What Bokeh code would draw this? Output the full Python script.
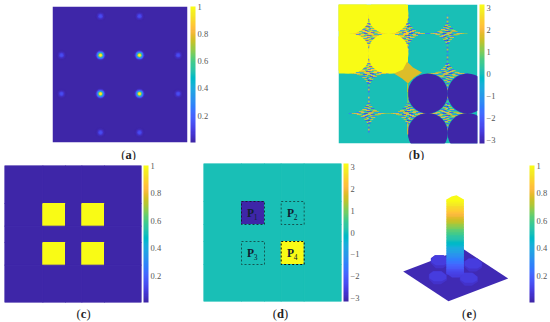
from bokeh.plotting import figure
from bokeh.layouts import column, row
from bokeh.models import ColumnDataSource, ColorBar, FixedTicker, LinearColorMapper, Range1d
from bokeh.core.properties import value
from bokeh.transform import transform
from bokeh.embed import file_html
from bokeh.resources import INLINE

PARULA_RGB = [
 (0.2422,0.1504,0.6603),(0.2504,0.1650,0.7076),(0.2578,0.1818,0.7511),(0.2647,0.1978,0.7952),
 (0.2706,0.2147,0.8364),(0.2751,0.2342,0.8710),(0.2783,0.2559,0.8991),(0.2803,0.2782,0.9221),
 (0.2813,0.3006,0.9414),(0.2810,0.3228,0.9579),(0.2795,0.3447,0.9717),(0.2760,0.3667,0.9829),
 (0.2699,0.3892,0.9906),(0.2602,0.4123,0.9952),(0.2440,0.4358,0.9988),(0.2206,0.4603,0.9973),
 (0.1963,0.4847,0.9892),(0.1834,0.5074,0.9798),(0.1786,0.5289,0.9682),(0.1764,0.5499,0.9520),
 (0.1687,0.5703,0.9359),(0.1540,0.5902,0.9218),(0.1460,0.6091,0.9079),(0.1380,0.6276,0.8973),
 (0.1248,0.6459,0.8883),(0.1113,0.6635,0.8763),(0.0952,0.6798,0.8598),(0.0689,0.6948,0.8394),
 (0.0297,0.7082,0.8163),(0.0036,0.7203,0.7917),(0.0067,0.7312,0.7660),(0.0433,0.7411,0.7394),
 (0.0964,0.7500,0.7120),(0.1408,0.7584,0.6842),(0.1717,0.7670,0.6554),(0.1938,0.7758,0.6251),
 (0.2161,0.7843,0.5923),(0.2470,0.7918,0.5567),(0.2906,0.7973,0.5188),(0.3406,0.8008,0.4789),
 (0.3909,0.8029,0.4354),(0.4456,0.8024,0.3909),(0.5044,0.7993,0.3480),(0.5616,0.7942,0.3045),
 (0.6174,0.7876,0.2612),(0.6720,0.7793,0.2227),(0.7242,0.7698,0.1910),(0.7738,0.7598,0.1646),
 (0.8203,0.7498,0.1535),(0.8634,0.7406,0.1596),(0.9035,0.7330,0.1774),(0.9393,0.7288,0.2100),
 (0.9728,0.7298,0.2394),(0.9956,0.7434,0.2371),(0.9970,0.7659,0.2199),(0.9952,0.7893,0.2028),
 (0.9892,0.8136,0.1885),(0.9786,0.8386,0.1766),(0.9676,0.8639,0.1643),(0.9610,0.8890,0.1537),
 (0.9597,0.9135,0.1423),(0.9628,0.9373,0.1265),(0.9691,0.9606,0.1064),(0.9769,0.9839,0.0805)]
PARULA = ["#%02x%02x%02x" % tuple(int(round(c * 255)) for c in rgb) for rgb in PARULA_RGB]

UNIT_TICKS = [0.2, 0.4, 0.6, 0.8, 1]
PHASE_TICKS = [-3, -2, -1, 0, 1, 2, 3]
PHASE_LABELS = {-3: "\u22123", -2: "\u22122", -1: "\u22121", 0: "0", 1: "1", 2: "2", 3: "3"}

# (a) diffraction spots
spot_x = [48, 87, 48, 87, 9, 125.7, 9, 125.7, 48, 87, 48, 87]
spot_y = [48.7, 48.7, 87.3, 87.3, 48.7, 48.7, 87.3, 87.3, 9.7, 9.7, 126, 126]
spot_peak = [1, 1, 1, 1, .14, .14, .14, .14, .14, .14, .14, .14]
ring_radius = [5.5, 4.7, 3.9, 3.1, 2.4, 1.7, 1.1]
ring_level = [.03, .08, .18, .36, .6, .82, 1]

# (b) phase map
yellow_circle_x = [10.5, 50, 10.5, 50]
yellow_circle_y = [9.5, 9.5, 49, 49]
navy_circle_x = [89.3, 129, 89.3, 129]
navy_circle_y = [89, 89, 128.5, 128.5]
circle_radius = 20
star_x = [30.3, 69.5, 109, 30.3, 109, 30.3, 69.5, 109]
star_y = [29, 29, 29, 69, 69, 109, 109, 109]
star_flip_x = [1, -1, 1, -1, -1, 1, -1, 1]
star_flip_y = [1, 1, -1, -1, 1, -1, -1, 1]
# y0, y1, x0, x1, phase
star_segments = [
 (-19,-17,-.8,.8,-1.8),(-17,-15,-.8,.8,1.8),(-15,-13,-.8,.8,-2),(-13,-11,-.9,.9,.8),
 (11,13,-.9,.9,1.8),(13,15,-.8,.8,-1.5),(15,17,-.8,.8,2.2),(17,19,-.8,.8,-.9),
 (-.4,.4,-20,-17,-1.5),(-.4,.4,-17,-15,1.8),(-.4,.4,15,17,1.6),(-.4,.4,17,20,.9),
 (-10.5,-9.5,-1.6,1.6,-2.2),
 (-9.5,-8.5,-2,-.3,2.0),(-9.5,-8.5,-.3,2,-1.5),
 (-8.5,-7.5,-2.6,0,.8),(-8.5,-7.5,0,2.6,2.2),
 (-7.5,-6.5,-3.4,-.5,-2.4),(-7.5,-6.5,-.5,1,-3),(-7.5,-6.5,1,3.4,.5),
 (-6.5,-5.5,-4.4,-1,1.8),(-6.5,-5.5,-1,1.5,-.8),(-6.5,-5.5,1.5,4.4,1.8),
 (-5.5,-4.5,-5.5,-2,.6),(-5.5,-4.5,-2,.5,2.2),(-5.5,-4.5,.5,2.5,-2.2),(-5.5,-4.5,2.5,5.5,.4),
 (-4.5,-3.5,-6.5,-3,-1.8),(-4.5,-3.5,-3,-.5,1.6),(-4.5,-3.5,-.5,2,-.2),(-4.5,-3.5,2,6.5,2.0),
 (-3.5,-2.5,-8,-4,1.9),(-3.5,-2.5,-4,-1,-2.4),(-3.5,-2.5,-1,3,.9),(-3.5,-2.5,3,8,-1.2),
 (-2.5,-1.5,-10,-6,.5),(-2.5,-1.5,-6,-2,2.3),(-2.5,-1.5,-2,1,-1),(-2.5,-1.5,1,4,1.9),(-2.5,-1.5,4,10,.7),
 (-1.5,-.5,-12,-7,2.0),(-1.5,-.5,-7,-3,-1.4),(-1.5,-.5,-3,2,2.2),(-1.5,-.5,2,6,-2.3),(-1.5,-.5,6,12,1.7),
 (-.5,.5,-15,-10,2.1),(-.5,.5,-10,-5,.6),(-.5,.5,-5,-1,-2.6),(-.5,.5,-1,4,2.0),(-.5,.5,4,9,.3),(-.5,.5,9,15,2.2),
 (.5,1.5,-13,-8,-1.6),(.5,1.5,-8,-4,2.2),(.5,1.5,-4,0,.8),(.5,1.5,0,5,1.9),(.5,1.5,5,13,-1),
 (1.5,2.5,-10,-5,1.9),(1.5,2.5,-5,-2,-.6),(1.5,2.5,-2,3,-2.5),(1.5,2.5,3,10,1.5),
 (2.5,3.5,-8,-3,.9),(2.5,3.5,-3,1,2.1),(2.5,3.5,1,4,.4),(2.5,3.5,4,8,2.0),
 (3.5,4.5,-6.5,-2,2.2),(3.5,4.5,-2,1,-1.9),(3.5,4.5,1,6.5,.7),
 (4.5,5.5,-5.5,-1,-.9),(4.5,5.5,-1,2,2.0),(4.5,5.5,2,5.5,-2.2),
 (5.5,6.5,-4.4,0,1.6),(5.5,6.5,0,4.4,.3),
 (6.5,7.5,-3.4,0,-2.3),(6.5,7.5,0,3.4,1.8),
 (7.5,8.5,-2.6,.5,1.9),(7.5,8.5,.5,2.6,-1.2),
 (8.5,9.5,-2,2,.9),
 (9.5,10.5,-1.6,1.6,-2),
]
blob_x = [55.5, 64.5, 68.5, 74.5, 83.5, 75.5, 69.5, 63.5]
blob_y = [69, 65, 57, 63, 68, 73, 79, 74]
blob_phase = 1.75
edge_x0 = [68.5, 68.5, 68.7]
edge_x1 = [69.7, 69.7, 69.7]
edge_y0 = [79, 88, 118]
edge_y1 = [88, 99, 130]
edge_phase = [1.4, 0.8, 1.8]

# (c) / (d) grids
c_edges_x = [0, 38.3, 61, 77.3, 100, 137]
c_edges_y = [0, 38, 60.7, 77, 99.7, 137]
c_cells = [[0, 0, 0, 0, 0],
           [0, 1, 0, 1, 0],
           [0, 0, 0, 0, 0],
           [0, 1, 0, 1, 0],
           [0, 0, 0, 0, 0]]
d_edges_x = [0, 38, 61, 77.7, 100.7, 138]
d_edges_y = [0, 38, 61, 78, 101, 138]
d_cells = [[0, 0, 0, 0, 0],
           [0, -3.14, 0, 0, 0],
           [0, 0, 0, 0, 0],
           [0, 0, 0, 3.14, 0],
           [0, 0, 0, 0, 0]]
patch_x0 = [38, 77.7, 38, 77.7]
patch_x1 = [61, 100.7, 61, 100.7]
patch_y0 = [38, 38, 78, 78]
patch_y1 = [61, 61, 101, 101]
patch_alpha = [.75, .6, .6, 1]
patch_name_x = [47, 87, 47, 87]
patch_name_y = [49.3, 49.3, 89.3, 89.3]
patch_sub = ["1", "2", "3", "4"]

# (e) surface
plate_x = [402.7, 462.4, 507.7, 448]
plate_y = [271, 248.3, 278, 300.7]
plate_level = 0.02
bump_x = [439.3, 472.7, 437.3, 468.3]
bump_y = [260.7, 264, 276.7, 278.3]
bump_side_dx = [-9, -5, 4, 9, 9, 3, -4, -9]
bump_side_dy = [-3, -6, -6, -2, 3, 7, 7, 2]
bump_top_dx = [-8.5, -4.5, 3.5, 8.5, 8.5, 4, -4, -8.5]
bump_top_dy = [-3, -6, -6, -2, 1.5, 4, 4, 1]
bump_side_level = 0.05
bump_top_level = 0.08
column_left, column_right = 446, 463.3
column_top_x = [446, 451, 456, 463.3, 463.3, 446]
column_top_y = [199, 196, 194.7, 199, 201, 201]
column_foot_x = [446, 451.5, 459, 463.3, 463.3, 446]
column_foot_y = [273, 277, 277, 273, 268, 268]
column_levels = [1, .98, .96, .94, .92, .9, .88, .86, .84, .82, .8, .78, .76, .74, .72, .7,
                 .68, .66, .64, .62, .6, .58, .56, .54, .52, .5, .48, .46, .44, .42, .4, .38,
                 .36, .34, .32, .3, .28, .26, .24, .22, .2, .18, .16, .14, .12, .1]
column_y_at_one, column_y_per_level = 199, 81
foot_level = 0.09

# caption strips, in page pixels
caption_x = {"a": 128, "b": 416, "c": 83, "d": 280, "e": 468.7}
caption_half = {"a": 3.2, "b": 3.6, "c": 2.9, "d": 3.6, "e": 3.0}
top_caption_y = 154
bottom_caption_y = 313.7
SERIF = "Liberation Serif"


def panel(x_range, y_range, left, top, w, h, right, bottom):
    return figure(x_range=Range1d(*x_range), y_range=Range1d(*y_range), x_axis_type=None, y_axis_type=None,
                  frame_width=w, frame_height=h, min_border_left=left, min_border_top=top,
                  min_border_right=right, min_border_bottom=bottom, toolbar_location=None,
                  output_backend="svg", outline_line_color=None, background_fill_color=None, frame_align=False)


def add_bar(p, mapper, ticks, h, gap, overrides=None):
    cb = ColorBar(color_mapper=mapper, ticker=FixedTicker(ticks=ticks), width=5, height=h, padding=0, margin=0,
                  location=(gap, 0), major_tick_line_color=None, minor_tick_line_color=None, bar_line_color=None,
                  border_line_color=None, background_fill_color=None, label_standoff=2,
                  major_label_text_font=SERIF, major_label_text_font_size="8.5px",
                  major_label_text_color="#555555", major_label_overrides=overrides or {})
    p.add_layout(cb, "right")


def strip(letters, y, y_top, y_bottom):
    p = panel((0, 550), (y_bottom, y_top), 0, 0, 550, y_bottom - y_top, 0, 0)
    common = dict(text_baseline="middle", text_font=value(SERIF), text_font_size="12.5px", text_color="#222222")
    xs = [caption_x[k] for k in letters]
    hw = [caption_half[k] for k in letters]
    ys = [y] * len(letters)
    p.text(x=[a - b for a, b in zip(xs, hw)], y=ys, text=["("] * len(letters), text_align="right", **common)
    p.text(x=xs, y=ys, text=list(letters), text_align="center", text_font_style="bold", **common)
    p.text(x=[a + b for a, b in zip(xs, hw)], y=ys, text=[")"] * len(letters), text_align="left", **common)
    return p


def grid_source(ex, ey, cells):
    d = dict(l=[], r=[], t=[], b=[], v=[])
    for i, rw in enumerate(cells):
        for j, val in enumerate(rw):
            d["l"].append(ex[j]); d["r"].append(ex[j + 1]); d["t"].append(ey[i]); d["b"].append(ey[i + 1]); d["v"].append(val)
    return ColumnDataSource(d)


unit = LinearColorMapper(palette=PARULA, low=0.004, high=1)
phase = LinearColorMapper(palette=PARULA, low=-3.14, high=3.14)
cu, cp = transform("v", unit), transform("v", phase)

# (a)
pa = panel((0, 135), (136, 0), 52, 6, 135, 136, 103, 3)
pa.quad(left=[0], right=[135], top=[0], bottom=[136], fill_color=PARULA[0], line_color=None)
sa = dict(x=[], y=[], r=[], v=[])
for sx, sy, peak in zip(spot_x, spot_y, spot_peak):
    for rad, lev in zip(ring_radius, ring_level):
        sa["x"].append(sx); sa["y"].append(sy); sa["r"].append(rad); sa["v"].append(lev * peak)
pa.circle(x="x", y="y", radius="r", source=ColumnDataSource(sa), fill_color=cu, line_color=None)
add_bar(pa, unit, UNIT_TICKS, 136, 3)

# (b)
pb = panel((0, 139), (139, 0), 48, 4, 139, 139, 73, 2)
pb.quad(left=[0], right=[139], top=[0], bottom=[139], fill_color=PARULA[32], line_color=None)
pb.quad(left=[0], right=[69.5], top=[0], bottom=[69], fill_color=PARULA[-1], line_color=None)
pb.patch(blob_x, blob_y, fill_color=PARULA[int((blob_phase + 3.14) / 6.28 * 63)], line_color=None)
sb = dict(l=[], r=[], t=[], b=[], v=[])
for cx, cy, fx, fy in zip(star_x, star_y, star_flip_x, star_flip_y):
    for y0, y1, x0, x1, val in star_segments:
        a, b = sorted((cx + fx * x0, cx + fx * x1))
        c, d = sorted((cy + fy * y0, cy + fy * y1))
        sb["l"].append(a); sb["r"].append(b); sb["t"].append(c); sb["b"].append(d); sb["v"].append(val)
pb.quad(left="l", right="r", top="t", bottom="b", source=ColumnDataSource(sb), fill_color=cp, fill_alpha=.8, line_color=None)
pb.circle(yellow_circle_x, yellow_circle_y, radius=circle_radius, fill_color=PARULA[-1], line_color=None)
pb.circle(navy_circle_x, navy_circle_y, radius=circle_radius, fill_color=PARULA[0], line_color=None)
pb.quad(left="l", right="r", top="t", bottom="b", fill_color=cp, line_color=None,
        source=ColumnDataSource(dict(l=edge_x0, r=edge_x1, t=edge_y0, b=edge_y1, v=edge_phase)))
add_bar(pb, phase, PHASE_TICKS, 139, 2, PHASE_LABELS)

# (c)
pc = panel((0, 137), (137, 0), 4, 5, 137, 137, 59, 2)
pc.quad(left="l", right="r", top="t", bottom="b", source=grid_source(c_edges_x, c_edges_y, c_cells), fill_color=cu, line_color=cu)
add_bar(pc, unit, UNIT_TICKS, 137, 2)

# (d)
pd_ = panel((0, 138), (138, 0), 3, 3, 138, 138, 44, 3)
pd_.quad(left="l", right="r", top="t", bottom="b", source=grid_source(d_edges_x, d_edges_y, d_cells), fill_color=cp, line_color=cp)
pd_.quad(left=patch_x0, right=patch_x1, top=patch_y0, bottom=patch_y1, fill_color=None, line_color="#111111",
         line_alpha=patch_alpha, line_dash="2 2", line_width=1)
pd_.text(x=patch_name_x, y=patch_name_y, text=["P"] * 4, text_font=value(SERIF), text_font_size="11.5px",
         text_font_style="bold", text_color="#102030", text_align="center", text_baseline="middle")
pd_.text(x=patch_name_x, y=patch_name_y, text=patch_sub, x_offset=5, y_offset=4, text_font=value(SERIF),
         text_font_size="7.5px", text_color="#102030", text_align="center", text_baseline="middle")
add_bar(pd_, phase, PHASE_TICKS, 138, 2, PHASE_LABELS)

# (e)
pe = panel((395, 527), (302, 165), 10, 5, 132, 137, 23, 2)


def ucol(v):
    return PARULA[min(63, int(v * 64))]


pe.patch(plate_x, plate_y, fill_color=ucol(plate_level), line_color=None)
for bx, by in zip(bump_x, bump_y):
    pe.patch([bx + d for d in bump_side_dx], [by + d for d in bump_side_dy], fill_color=ucol(bump_side_level), line_color=None)
    pe.patch([bx + d for d in bump_top_dx], [by + d for d in bump_top_dy], fill_color=ucol(bump_top_level), line_color=None)
pe.patch(column_foot_x, column_foot_y, fill_color=ucol(foot_level), line_color=None)
band_top = [column_y_at_one + (1 - v) * column_y_per_level for v in column_levels]
band_bot = [t + 3 for t in band_top[:-1]] + [274]
pe.quad(left=column_left, right=column_right, top=band_top, bottom=band_bot,
        fill_color=[ucol(v) for v in column_levels], line_color=None)
pe.patch(column_top_x, column_top_y, fill_color=ucol(1), line_color=None)
add_bar(pe, unit, UNIT_TICKS, 137, 2)

layout = column(row(pa, pb), strip("ab", top_caption_y, 145, 160),
                row(pc, pd_, pe), strip("cde", bottom_caption_y, 304, 322))
open("out.html", "w").write(file_html(layout, INLINE))
